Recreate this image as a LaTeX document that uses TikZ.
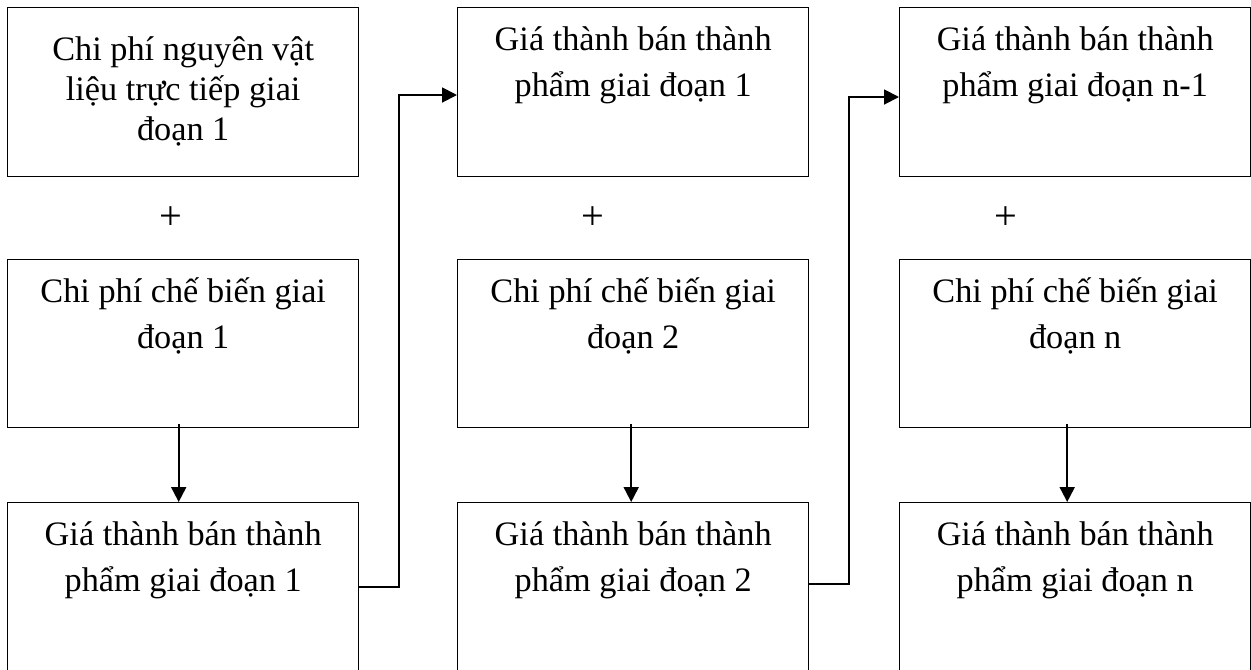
\documentclass[tikz,border=0pt]{standalone}
\usepackage{fontspec}
\setmainfont{Liberation Serif}
\usetikzlibrary{arrows.meta,calc}
\tikzset{
  stagebox/.style={draw,line width=0.8pt,inner sep=0pt,anchor=north west},
  flow/.style={line width=1.1pt,-{Triangle[length=8.5pt,width=8.5pt]}},
  plus/.style={font=\fontsize{23pt}{26pt}\selectfont}
}
% box text: height, first baseline, line skip, lines
\newcommand{\stagetext}[4]{\parbox[c][#1][t]{7.02cm}{\fontsize{19.5pt}{#3}\selectfont\centering\rule{0pt}{#2}#4}}
\begin{document}
\begin{tikzpicture}
\useasboundingbox (0,0) rectangle (25.02,-13.38);
% column 1
\node[stagebox] (c1a) at (0.14,-0.14) {\stagetext{3.38cm}{30pt}{22.7pt}{Chi phí nguyên vật\\liệu trực tiếp giai\\đoạn 1}};
\node[stagebox] (c1b) at (0.14,-5.18) {\stagetext{3.36cm}{24.4pt}{26pt}{Chi phí chế biến giai\\đoạn 1}};
\node[stagebox] (c1c) at (0.14,-10.04) {\stagetext{3.40cm}{24.4pt}{26pt}{Giá thành bán thành\\phẩm giai đoạn 1}};
% column 2
\node[stagebox] (c2a) at (9.14,-0.14) {\stagetext{3.38cm}{24.4pt}{26pt}{Giá thành bán thành\\phẩm giai đoạn 1}};
\node[stagebox] (c2b) at (9.14,-5.18) {\stagetext{3.36cm}{24.4pt}{26pt}{Chi phí chế biến giai\\đoạn 2}};
\node[stagebox] (c2c) at (9.14,-10.04) {\stagetext{3.40cm}{24.4pt}{26pt}{Giá thành bán thành\\phẩm giai đoạn 2}};
% column 3
\node[stagebox] (c3a) at (17.98,-0.14) {\stagetext{3.38cm}{24.4pt}{26pt}{Giá thành bán thành\\phẩm giai đoạn n-1}};
\node[stagebox] (c3b) at (17.98,-5.18) {\stagetext{3.36cm}{24.4pt}{26pt}{Chi phí chế biến giai\\đoạn n}};
\node[stagebox] (c3c) at (17.98,-10.04) {\stagetext{3.40cm}{24.4pt}{26pt}{Giá thành bán thành\\phẩm giai đoạn n}};
% plus signs
\node[plus,xshift=-0.25cm] (p1) at ($(c1a.south)!.5!(c1b.north)$) {+};
\node[plus,xshift=-0.8cm] (p2) at ($(c2a.south)!.5!(c2b.north)$) {+};
\node[plus,xshift=-1.38cm] (p3) at ($(c3a.south)!.5!(c3b.north)$) {+};
% arrows down
\draw[flow] ([xshift=-0.09cm,yshift=0.08cm]c1b.south) -- ([xshift=-0.09cm]c1c.north);
\draw[flow] ([xshift=-0.04cm,yshift=0.08cm]c2b.south) -- ([xshift=-0.04cm]c2c.north);
\draw[flow] ([xshift=-0.16cm,yshift=0.08cm]c3b.south) -- ([xshift=-0.16cm]c3c.north);
% elbows to next stage
\draw[flow] ([yshift=-1.7cm]c1c.north east) -- ++(0.8,0) |- ([yshift=-1.76cm]c2a.north west);
\draw[flow] ([yshift=-1.64cm]c2c.north east) -- ++(0.8,0) |- ([yshift=-1.8cm]c3a.north west);
\end{tikzpicture}
\end{document}
